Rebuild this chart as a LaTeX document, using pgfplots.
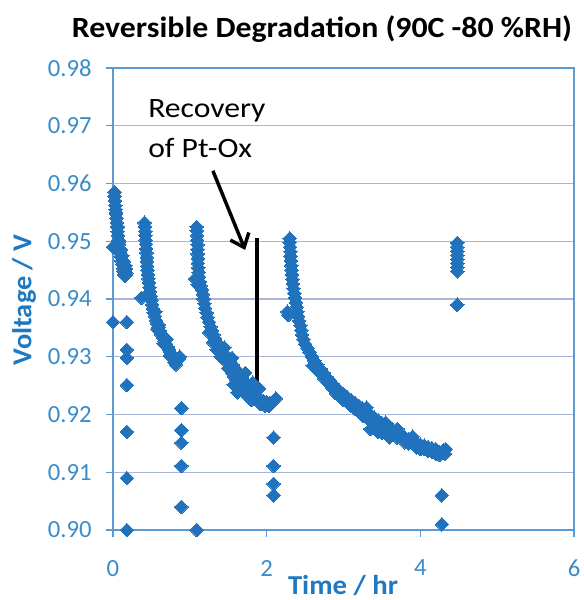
\documentclass[border=0pt]{standalone}
\usepackage{fontspec}
\setmainfont{Carlito}
\usepackage{pgfplots}
\pgfplotsset{compat=1.18}
\usetikzlibrary{arrows.meta}
\definecolor{mk}{HTML}{1F72BB}
\definecolor{tickc}{HTML}{3A8CC8}
\definecolor{labc}{HTML}{1F78C0}
\definecolor{framec}{HTML}{5B9BD5}
\definecolor{gridc}{HTML}{A9B6D6}
\pgfplotsset{pts/.style={only marks, mark=square*, mark size=3.6pt,
     mark options={rotate=45, fill=mk, draw=mk, line width=0pt}}}
\begin{document}
\begin{tikzpicture}
\useasboundingbox (-84.75pt,-52.5pt) rectangle (353.25pt,397.5pt);
\begin{axis}[
  at={(0,0)}, anchor=south west,
  scale only axis, width=345.75pt, height=346.5pt,
  xmin=0, xmax=6, ymin=0.90, ymax=0.98,
  xtick={0,2,4,6},
  ytick={0.90,0.91,0.92,0.93,0.94,0.95,0.96,0.97,0.98},
  ymajorgrids,
  grid style={color=gridc, line width=0.9pt},
  axis line style={draw=framec, line width=1pt},
  tick style={color=framec, line width=0.8pt},
  tick align=outside, major tick length=5pt,
  xtick pos=left, ytick pos=left,
  /pgf/number format/assume math mode=true,
  ticklabel style={font=\fontsize{18.5}{18.5}\selectfont, color=tickc},
  yticklabel style={xshift=-7.5pt, /pgf/number format/.cd, fixed, fixed zerofill, precision=2},
  xticklabel style={yshift=-14pt, /pgf/number format/.cd, fixed, precision=0},
  clip=false,
]
% segment 1
\addplot[pts] coordinates {(0.02,0.9585)(0.02,0.9578)(0.025,0.957)(0.03,0.9562)(0.035,0.9555)(0.04,0.9547)(0.045,0.954)(0.05,0.9532)(0.055,0.9525)(0.06,0.9517)(0.065,0.951)(0.07,0.9502)(0.08,0.9495)(0.085,0.9488)(0.09,0.948)(0.1,0.9473)(0.11,0.9466)(0.12,0.946)(0.13,0.9453)(0.14,0.9447)(0.15,0.9442)(0.16,0.944)(0.175,0.9445)(0.17,0.9452)(0.16,0.9458)(0.14,0.9465)(0.12,0.9475)(0.1,0.9485)(0.08,0.95)(0.06,0.9525)(0.04,0.955)
(0,0.949)(0,0.936)(0.18,0.936)(0.18,0.9312)(0.18,0.9298)(0.18,0.9251)(0.18,0.917)(0.18,0.909)(0.18,0.900)};
% segment 2
\addplot[pts] coordinates {(0.41,0.9532)(0.415,0.9525)(0.42,0.9517)(0.42,0.951)(0.425,0.9502)(0.43,0.9495)(0.43,0.9487)(0.435,0.948)(0.44,0.9472)(0.44,0.9465)(0.445,0.9457)(0.45,0.945)(0.455,0.9442)(0.46,0.9435)(0.47,0.9428)(0.475,0.942)(0.48,0.9413)(0.49,0.9405)(0.5,0.9398)(0.51,0.939)(0.52,0.9383)(0.53,0.9376)(0.545,0.937)(0.56,0.9363)(0.575,0.9357)(0.59,0.935)(0.61,0.9345)(0.63,0.9338)(0.65,0.9333)(0.67,0.9327)(0.69,0.9322)(0.71,0.9317)(0.73,0.9312)(0.75,0.9307)(0.77,0.9303)(0.79,0.9299)(0.81,0.9295)(0.83,0.9292)(0.85,0.9296)(0.87,0.930)(0.8,0.929)(0.82,0.9287)(0.6,0.9355)(0.55,0.9378)(0.7,0.933)(0.58,0.9348)(0.66,0.9323)(0.74,0.9302)
(0.37,0.9402)(0.89,0.9211)(0.89,0.9173)(0.89,0.9151)(0.89,0.9111)(0.89,0.904)(1.09,0.900)};
% segment 3
\addplot[pts] coordinates {(1.09,0.9525)(1.09,0.9518)(1.095,0.951)(1.095,0.9502)(1.1,0.9494)(1.1,0.9486)(1.1,0.9478)(1.105,0.947)(1.105,0.9462)(1.11,0.9454)(1.115,0.9446)(1.12,0.9438)(1.13,0.943)(1.14,0.9423)(1.16,0.9416)(1.17,0.9408)(1.18,0.94)(1.19,0.9392)(1.2,0.9384)(1.22,0.9376)(1.23,0.9368)(1.25,0.936)(1.27,0.9352)(1.29,0.9345)(1.31,0.9338)(1.33,0.9331)(1.36,0.9324)(1.39,0.9317)(1.42,0.931)(1.46,0.9304)(1.49,0.9298)(1.52,0.9292)(1.56,0.9286)(1.59,0.928)(1.62,0.9275)(1.65,0.927)(1.68,0.9264)(1.71,0.9258)(1.74,0.9252)(1.77,0.9246)(1.8,0.924)(1.84,0.9235)(1.88,0.923)(1.92,0.9226)(1.96,0.9223)(2.0,0.9222)(2.04,0.922)(2.08,0.9222)(2.12,0.9228)
(1.45,0.9316)(1.55,0.9298)(1.6,0.926)(1.7,0.9248)(1.62,0.9238)(1.75,0.9232)(1.8,0.9225)(1.92,0.9218)(2.03,0.9215)(1.58,0.9265)(1.5,0.928)(1.4,0.930)(1.07,0.9435)(1.1,0.9425)(1.72,0.9272)(1.82,0.9255)(1.55,0.9272)(1.64,0.9242)(1.9,0.9245)(1.3,0.9325)(1.35,0.9312)(1.25,0.9342)
(1.45,0.9295)(1.52,0.9278)(1.68,0.925)(1.57,0.9252)(1.76,0.9238)(1.98,0.9215)
(2.09,0.916)(2.09,0.9111)(2.09,0.908)(2.09,0.906)};
% segment 4
\addplot[pts] coordinates {(2.30,0.9505)(2.30,0.9498)(2.305,0.949)(2.31,0.9482)(2.31,0.9474)(2.315,0.9466)(2.32,0.9458)(2.325,0.945)(2.33,0.9442)(2.335,0.9434)(2.34,0.9426)(2.35,0.9418)(2.36,0.941)(2.37,0.9402)(2.38,0.9394)(2.39,0.9386)(2.4,0.9378)(2.41,0.937)(2.42,0.9362)(2.44,0.9354)(2.45,0.9346)(2.46,0.9338)(2.48,0.933)(2.5,0.9322)(2.53,0.9315)(2.56,0.9308)(2.59,0.93)(2.62,0.9293)(2.66,0.9286)(2.7,0.9279)(2.74,0.9272)(2.78,0.9265)(2.82,0.9259)(2.86,0.9253)(2.9,0.9247)(2.95,0.9241)(3.0,0.9235)(3.05,0.923)(3.1,0.9225)(3.15,0.922)(3.2,0.9215)(3.25,0.921)(3.3,0.9205)(3.35,0.92)(3.4,0.9195)(3.45,0.919)(3.5,0.9185)(3.55,0.918)(3.6,0.9176)(3.65,0.9172)(3.7,0.9168)(3.75,0.9164)(3.8,0.916)(3.85,0.9157)(3.9,0.9154)(3.95,0.9151)(4.0,0.9148)(4.05,0.9146)(4.1,0.9144)(4.15,0.9142)(4.2,0.914)(4.25,0.9135)(4.3,0.9138)(4.33,0.914)(4.25,0.913)
(2.28,0.9372)(2.27,0.9378)(2.9,0.9237)(3.1,0.9215)(3.2,0.9205)(3.35,0.919)(3.4,0.9183)(3.5,0.9175)(3.55,0.9186)(3.3,0.9212)(3.7,0.916)(3.9,0.9162)(4.0,0.914)(3.8,0.9152)(2.7,0.9272)(2.6,0.9285)
(3.35,0.9175)(3.45,0.917)(3.5,0.9168)(3.6,0.916)(3.4,0.918)(4.15,0.9135)(4.2,0.9132)(2.8,0.9255)(3.0,0.9225)(3.15,0.921)(3.25,0.9198)(3.7,0.9175)(3.95,0.9143)(4.1,0.9137)
(2.65,0.9278)(2.75,0.9262)(2.85,0.9246)(2.95,0.9232)(3.05,0.9222)(3.3,0.9195)(3.6,0.917)(3.85,0.915)(4.05,0.914)(4.32,0.9132)};
% segment 5
\addplot[pts] coordinates {(4.48,0.9497)(4.48,0.949)(4.48,0.9483)(4.48,0.9476)(4.48,0.9469)(4.48,0.9462)(4.48,0.9455)(4.48,0.9448)(4.48,0.939)
(4.28,0.906)(4.28,0.901)};
% annotation
\draw[black, line width=3pt] (axis cs:1.875,0.9506) -- (axis cs:1.875,0.9233);
\draw[black, line width=2.6pt, -{Straight Barb[length=9pt,width=15pt,line width=2.6pt]}] (axis cs:1.30,0.9622) -- (axis cs:1.72,0.9485);
\node[anchor=base west, font=\fontsize{21}{21}\selectfont, inner sep=0pt, xscale=1.13] at (axis cs:0.455,0.9715) {Recovery};
\node[anchor=base west, font=\fontsize{21}{21}\selectfont, inner sep=0pt, xscale=1.13] at (axis cs:0.455,0.9645) {of Pt-Ox};
\end{axis}
\node[anchor=base, font=\bfseries\fontsize{22}{22}\selectfont, inner sep=0pt, xscale=1.085] at (156.75pt,369pt) {Reversible Degradation (90C -80 \%RH)};
\node[anchor=base, font=\bfseries\fontsize{20.5}{20.5}\selectfont, inner sep=0pt, color=labc, xscale=1.05] at (172.5pt,-48pt) {Time / hr};
\node[anchor=center, rotate=90, font=\bfseries\fontsize{20.5}{20.5}\selectfont, inner sep=0pt, color=labc, xscale=1.04] at (-66.75pt,172.5pt) {Voltage / V};
\end{tikzpicture}
\end{document}
